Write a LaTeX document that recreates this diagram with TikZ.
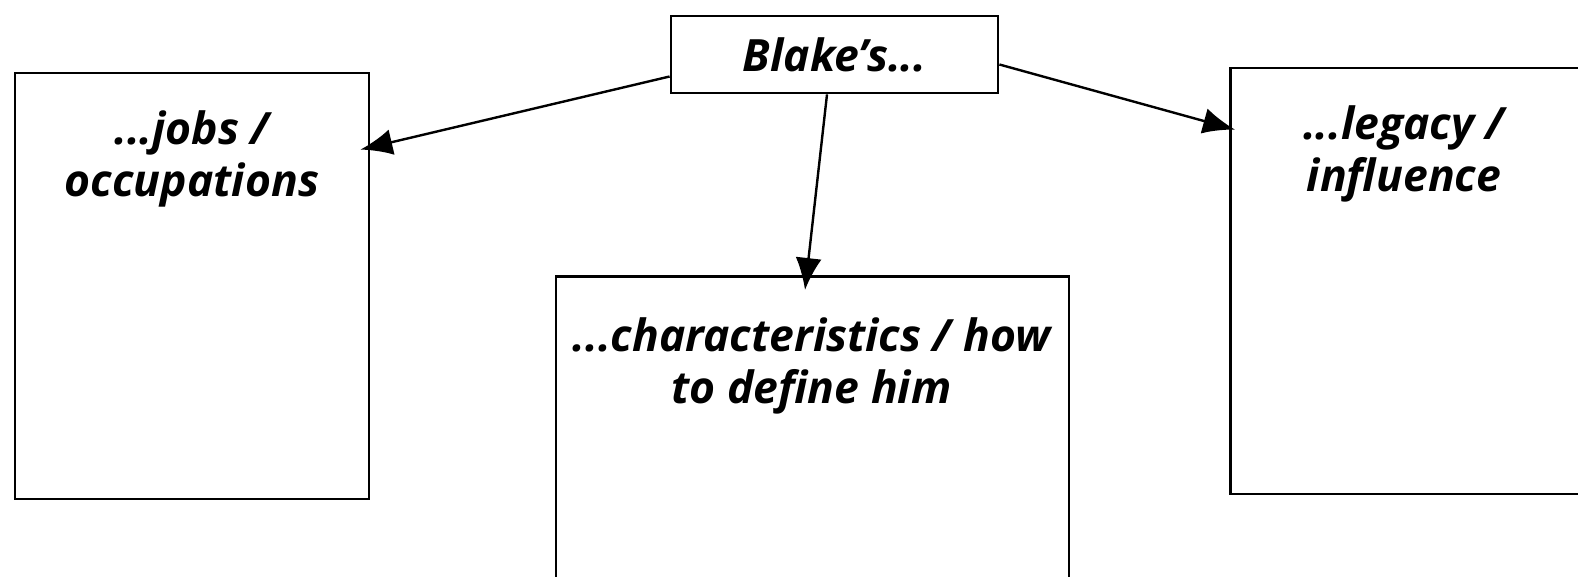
\documentclass[tikz,border=0pt]{standalone}
\usepackage{fontspec}
\setmainfont{Open Sans}
\usepackage{tikz}
\usetikzlibrary{shapes,arrows.meta,positioning,calc}

\newcommand\Boxfont{\fontsize{44.5}{52}\selectfont\bfseries\itshape}

\begin{document}
\begin{tikzpicture}[auto, x=1pt, y=1pt,
        headbox/.style={
          draw, rectangle, line width=2.8pt, inner sep=0pt,
          minimum width=327pt, minimum height=77pt,
          font=\Boxfont, align=center
        },
        panel/.style={
          draw, rectangle, line width=2.8pt, inner sep=0pt,
          minimum height=426pt
        },
        paneltext/.style={
          inner sep=0pt, font=\Boxfont, align=center
        },
        link/.style={
          -{Latex[length=32pt,width=26pt]}, line width=2.4pt
        }]

        \useasboundingbox (0,0) rectangle (1578,576);

        % Top box
        \node (blake) [headbox] at (834.5,521.5) {Blake's...};

        % Three panels
        \node (jobs) [panel, minimum width=354pt] at (192,290) {};
        \node (traits) [panel, minimum width=513pt, minimum height=330pt, anchor=north] at (812.5,301) {};
        \node (legacy) [panel, minimum width=380pt, anchor=west] at (1229,295) {};

        \node (jobstext) [paneltext, below=39pt of jobs.north] {...jobs /\\occupations};
        \node (traitstext) [paneltext, below=42pt of traits.north, xshift=-1pt] {...characteristics / how\\to define him};
        \node (legacytext) [paneltext, below=39pt of legacy.north west, xshift=175pt] {...legacy /\\influence};

        \draw [link] ([yshift=-22pt]blake.west) -- ([xshift=-10pt,yshift=-78pt]jobs.north east);
        \draw [link] ([xshift=-7.5pt]blake.south) -- ([xshift=-7.5pt,yshift=-15pt]traits.north);
        \draw [link] ([yshift=-10pt]blake.east) -- ([xshift=6pt,yshift=-63pt]legacy.north west);

      \end{tikzpicture}
\end{document}
